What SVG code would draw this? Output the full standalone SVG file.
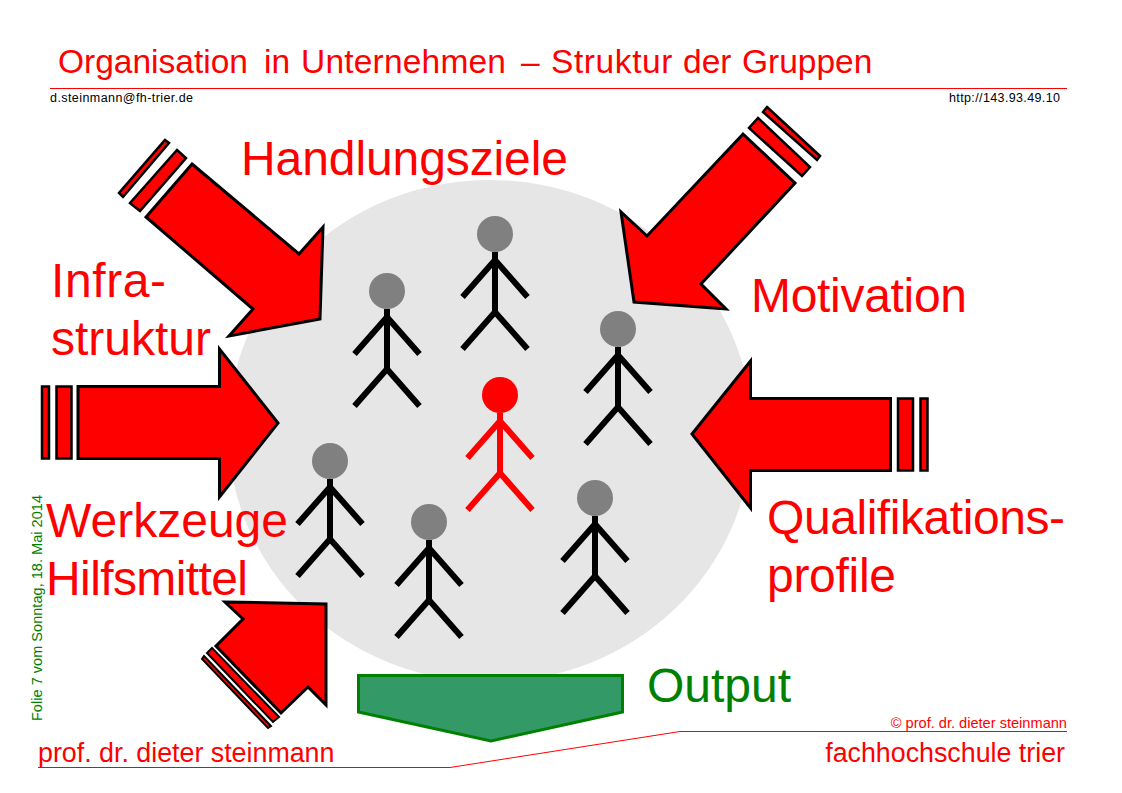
<svg xmlns="http://www.w3.org/2000/svg" width="1122" height="793" viewBox="0 0 1122 793">
<style>
text{font-family:"Liberation Sans",Arial,sans-serif}
.r{fill:#f00}
.g{fill:#008000}
.big{font-size:48px}
.foot{font-size:26.800px}
.sm{font-size:12.500px;fill:#000}
.arrow{fill:#f00;stroke:#000;stroke-width:3;stroke-linejoin:miter}
.thin{fill:#f00;stroke:#000;stroke-width:2.500}
.rule{fill:none;stroke:#f00;stroke-width:1}
.man{fill:none;stroke:#000;stroke-width:6}
.manr{fill:none;stroke:#f00;stroke-width:6}
</style>
<defs>
<g id="black-man"><circle cx="0" cy="0" r="18" fill="#808080"/><path class="man" d="M0 18V79M-32.500 63L0 26L32.500 63M-32.500 115L0 78L32.500 115"/></g>
<g id="red-man"><circle cx="0" cy="0" r="18" fill="#f00"/><path class="manr" d="M0 18V79M-32.500 63L0 26L32.500 63M-32.500 115L0 78L32.500 115"/></g>
</defs>
<rect width="1122" height="793" fill="#fff"/>
<ellipse id="group-circle" cx="490" cy="431" rx="262" ry="251" fill="#e6e6e6"/>
<g id="header">
<text y="73" class="r" font-size="33.500"><tspan x="58">Organisation</tspan><tspan x="264">in</tspan><tspan x="301" letter-spacing="0.200">Unternehmen</tspan><tspan x="521">–</tspan><tspan x="551" letter-spacing="0.600">Struktur</tspan><tspan x="683">der</tspan><tspan x="742">Gruppen</tspan></text>
<path class="rule" d="M50 88.500H1067"/>
<text x="50" y="102" class="sm" textLength="143">d.steinmann@fh-trier.de</text>
<text x="949" y="102" class="sm" textLength="111">http://143.93.49.10</text>
</g>
<g id="connectors">
<g id="arrow-handlungsziele">
<polygon class="thin" points="165,140 169,143 123,197 119,193"/>
<polygon class="thin" points="177,150 186,158 140,211 130,203"/>
<polygon class="arrow" points="192,164 299,254 323,227 320,319 229,336 253,309 146,217"/>
</g>
<g id="arrow-motivation">
<polygon class="thin" points="767,107 820,156 817,160 763,112"/>
<polygon class="thin" points="758,118 810,167 802,176 749,128"/>
<polygon class="arrow" points="743,134 795,183 701,284 726,309 634,302 621,212 647,236"/>
</g>
<g id="arrow-infrastruktur">
<rect class="thin" x="42" y="386.500" width="7" height="72"/>
<rect class="thin" x="56.500" y="386.500" width="15" height="72"/>
<polygon class="arrow" points="78,386.500 219.500,386.500 219.500,349 278,423 219.500,497 219.500,458.500 78,458.500"/>
</g>
<g id="arrow-qualifikation">
<rect class="thin" x="898" y="398.500" width="15" height="72"/>
<rect class="thin" x="920.500" y="398.500" width="7" height="72"/>
<polygon class="arrow" points="692,434 750.500,361 750.500,398.500 890.500,398.500 890.500,470.500 750.500,470.500 750.500,508"/>
</g>
<g id="arrow-werkzeuge">
<polygon class="thin" style="stroke-width:2" points="204,656 271,726 268,728 202,659"/>
<polygon class="thin" style="stroke-width:2" points="212,648 279,717 273,722 207,653"/>
<polygon class="arrow" points="225,602 326,604 326,705 308,687 281,713 216,646 243,619"/>
</g>
<g id="arrow-output">
<polygon points="358.500,675.500 622.500,675.500 622.500,712 491,741 358.500,712" fill="#339966" stroke="#008000" stroke-width="3"/>
</g>
</g>
<g id="person-1"><use href="#black-man" x="387" y="291"/></g>
<g id="person-2"><use href="#black-man" x="495" y="234"/></g>
<g id="person-3"><use href="#black-man" x="618" y="329"/></g>
<g id="person-4"><use href="#red-man" x="500" y="395"/></g>
<g id="person-5"><use href="#black-man" x="330" y="461"/></g>
<g id="person-6"><use href="#black-man" x="429" y="522"/></g>
<g id="person-7"><use href="#black-man" x="595" y="498"/></g>
<g id="labels">
<text x="241" y="175" class="r big" textLength="327">Handlungsziele</text>
<text x="51" y="297" class="r big" textLength="115">Infra-</text>
<text x="51" y="355" class="r big" textLength="160">struktur</text>
<text x="751" y="312" class="r big" textLength="216">Motivation</text>
<text x="46" y="537" class="r big" textLength="242">Werkzeuge</text>
<text x="46" y="595" class="r big" textLength="202">Hilfsmittel</text>
<text x="767" y="534" class="r big" textLength="298">Qualifikations-</text>
<text x="767" y="592" class="r big" textLength="129">profile</text>
<text x="647" y="702" class="g big">Output</text>
</g>
<g id="footer">
<text transform="translate(42 721) rotate(-90)" class="g" font-size="14.500" textLength="226">Folie 7 vom Sonntag, 18. Mai 2014</text>
<text x="1067" y="728" class="r" font-size="14.600" text-anchor="end">© prof. dr. dieter steinmann</text>
<path class="rule" d="M38 767.500H450L680 731.500H1067"/>
<text x="38" y="762" class="r foot">prof. dr. dieter steinmann</text>
<text x="1065" y="762" class="r foot" text-anchor="end">fachhochschule trier</text>
</g>
</svg>
